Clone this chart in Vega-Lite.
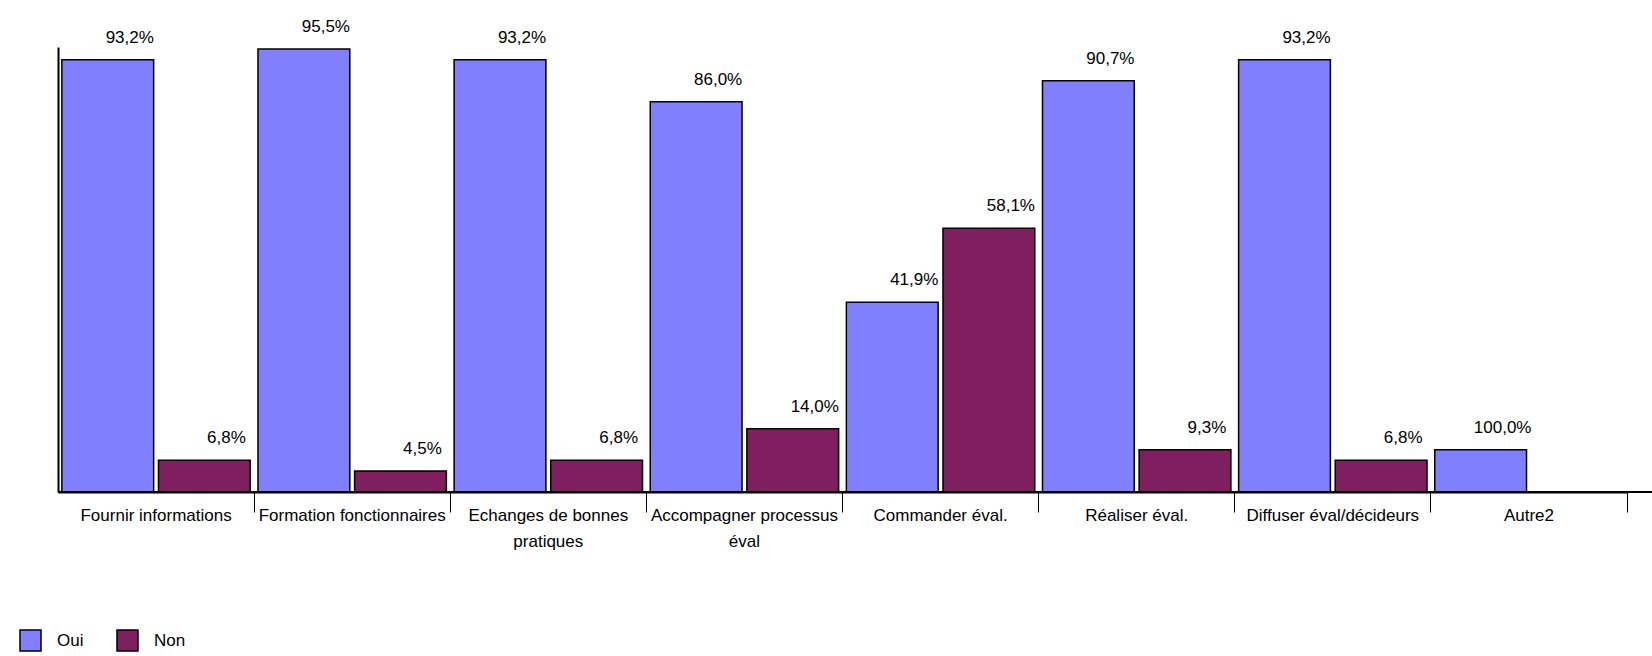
{
  "$schema": "https://vega.github.io/schema/vega-lite/v6.json",
  "width": 1594,
  "height": 445,
  "autosize": {"type": "none"},
  "padding": {"left": 58, "top": 47, "right": 0, "bottom": 164},
  "config": {
    "view": {"stroke": null},
    "font": "Liberation Sans",
    "locale": {"number": {"decimal": ",", "thousands": " ", "grouping": [3], "currency": ["", " €"]}}
  },
  "data": {
    "values": [
      {"categorie": "Fournir informations", "reponse": "Oui", "n": 41, "pct": 0.932},
      {"categorie": "Fournir informations", "reponse": "Non", "n": 3, "pct": 0.068},
      {"categorie": "Formation fonctionnaires", "reponse": "Oui", "n": 42, "pct": 0.955},
      {"categorie": "Formation fonctionnaires", "reponse": "Non", "n": 2, "pct": 0.045},
      {"categorie": "Echanges de bonnes pratiques", "reponse": "Oui", "n": 41, "pct": 0.932},
      {"categorie": "Echanges de bonnes pratiques", "reponse": "Non", "n": 3, "pct": 0.068},
      {"categorie": "Accompagner processus éval", "reponse": "Oui", "n": 37, "pct": 0.86},
      {"categorie": "Accompagner processus éval", "reponse": "Non", "n": 6, "pct": 0.14},
      {"categorie": "Commander éval.", "reponse": "Oui", "n": 18, "pct": 0.419},
      {"categorie": "Commander éval.", "reponse": "Non", "n": 25, "pct": 0.581},
      {"categorie": "Réaliser éval.", "reponse": "Oui", "n": 39, "pct": 0.907},
      {"categorie": "Réaliser éval.", "reponse": "Non", "n": 4, "pct": 0.093},
      {"categorie": "Diffuser éval/décideurs", "reponse": "Oui", "n": 41, "pct": 0.932},
      {"categorie": "Diffuser éval/décideurs", "reponse": "Non", "n": 3, "pct": 0.068},
      {"categorie": "Autre2", "reponse": "Oui", "n": 4, "pct": 1.0}
    ]
  },
  "layer": [
    {
      "mark": {"type": "bar", "stroke": "black", "strokeWidth": 1.5},
      "encoding": {
        "x": {
          "field": "categorie", "type": "nominal", "sort": null,
          "scale": {"range": [0, 1569], "paddingInner": 0, "paddingOuter": 0},
          "axis": {
            "title": null, "labelAngle": 0, "bandPosition": 1,
            "domainColor": "black", "domainWidth": 2,
            "tickColor": "black", "tickWidth": 1, "tickSize": 20,
            "labelFontSize": 17, "labelColor": "black", "labelPadding": -5,
            "labelLineHeight": 26.5, "labelBaseline": "top", "labelLimit": 0,
            "labelExpr": "datum.label == 'Echanges de bonnes pratiques' ? ['Echanges de bonnes', 'pratiques'] : datum.label == 'Accompagner processus éval' ? ['Accompagner processus', 'éval'] : datum.label"
          }
        },
        "xOffset": {"field": "reponse", "sort": ["Oui", "Non"], "scale": {"paddingInner": 0.05, "paddingOuter": 0.04}},
        "y": {
          "field": "n", "type": "quantitative",
          "scale": {"domain": [0, 42.2], "nice": false},
          "axis": {"title": null, "labels": false, "ticks": false, "grid": false, "domainColor": "black", "domainWidth": 2}
        },
        "color": {
          "field": "reponse", "type": "nominal",
          "scale": {"domain": ["Oui", "Non"], "range": ["#8080FF", "#7F1F5F"]},
          "legend": {
            "title": null, "orient": "none", "legendX": -39, "legendY": 582,
            "direction": "horizontal", "symbolType": "square", "symbolSize": 441,
            "symbolStrokeColor": "black", "symbolStrokeWidth": 1.5, "symbolOpacity": 1,
            "labelFontSize": 17, "labelColor": "black", "labelOffset": 15, "columnPadding": 30, "padding": 0
          }
        }
      }
    },
    {
      "mark": {"type": "text", "dx": 22, "dy": -17, "baseline": "alphabetic", "fontSize": 17, "color": "black"},
      "encoding": {
        "x": {"field": "categorie", "type": "nominal", "sort": null},
        "xOffset": {"field": "reponse", "sort": ["Oui", "Non"]},
        "y": {"field": "n", "type": "quantitative"},
        "text": {"field": "pct", "type": "quantitative", "format": ".1%"}
      }
    },
    {
      "mark": {"type": "rule", "stroke": "black", "strokeWidth": 2},
      "encoding": {"y": {"datum": 0}}
    }
  ]
}
